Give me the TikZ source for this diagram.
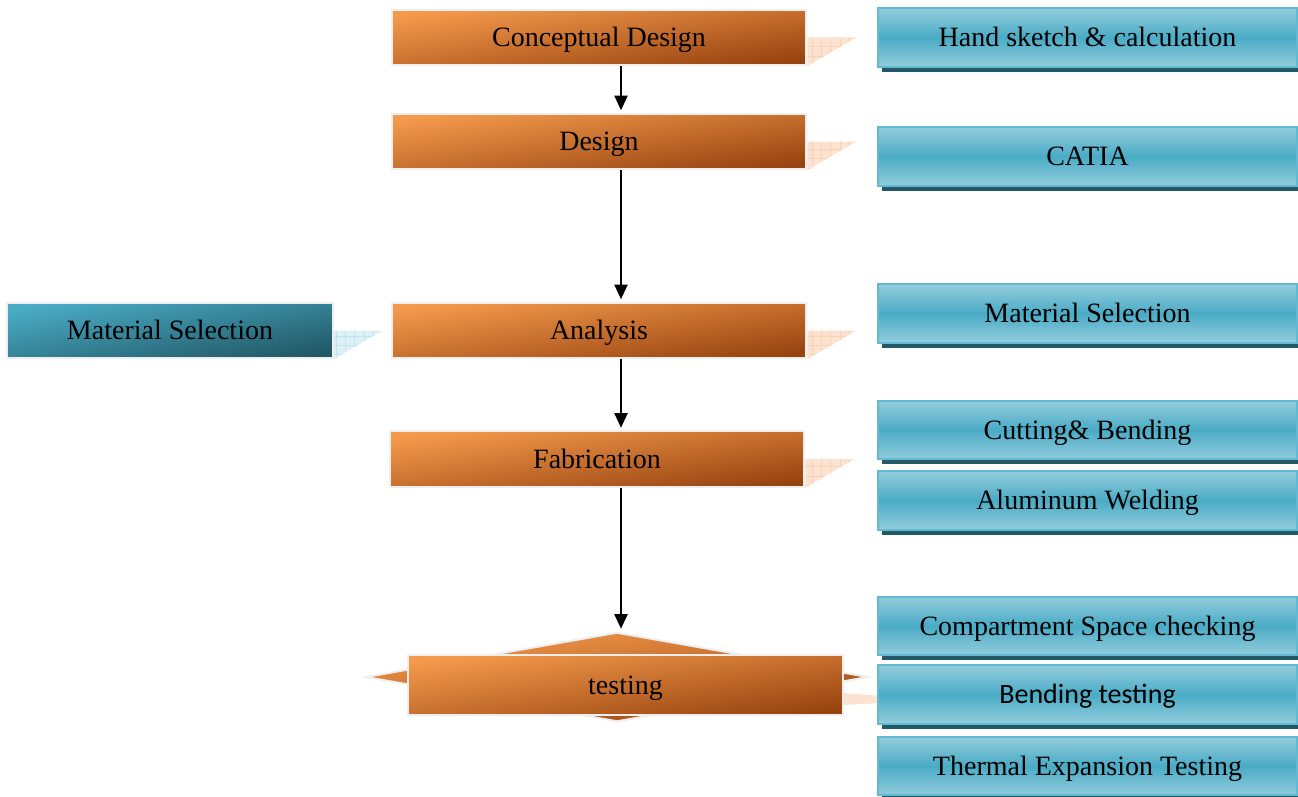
\documentclass[tikz,border=0pt]{standalone}
\usepackage{fontspec}
\setmainfont{Liberation Serif}
\newfontfamily\calfont{Carlito}
\usetikzlibrary{shapes.geometric, shadows, arrows.meta, backgrounds, calc}

\definecolor{olight}{HTML}{F59A4C}
\definecolor{odark}{HTML}{984410}
\definecolor{blight}{HTML}{93CDDD}
\definecolor{bmid}{HTML}{4AABC5}
\definecolor{bdark}{HTML}{215967}
\definecolor{bline}{HTML}{62BAD2}
\definecolor{edge}{HTML}{EEEEEE}
\definecolor{opeach}{HTML}{FCE3D1}
\definecolor{ogrid}{HTML}{F9D2B4}
\definecolor{bpale}{HTML}{DDF0F6}
\definecolor{bgrid}{HTML}{C3E4EE}

\tikzset{
  txt/.style={font=\fontsize{21}{25}\selectfont, text height=14pt, text depth=0pt},
  stage/.style={rectangle, draw=edge, line width=1.5pt, top color=olight, bottom color=odark,
    shading angle=8, minimum width=311pt, minimum height=41.5pt, inner sep=0pt, txt},
  task/.style={rectangle, draw=bline, line width=1.5pt, top color=blight, bottom color=blight,
    middle color=bmid, minimum width=314pt, minimum height=44pt, inner sep=0pt, txt,
    drop shadow={fill=bdark, opacity=1, shadow xshift=3pt, shadow yshift=-3.75pt}},
  sidebox/.style={rectangle, draw=edge, line width=1.5pt, top color=bmid, bottom color=bdark,
    shading angle=10, minimum width=244pt, minimum height=41.5pt, inner sep=0pt, txt},
  flow/.style={line width=1.1pt, -{Triangle[width=10pt,length=11pt]}, shorten >=2pt},
}

\begin{document}
\begin{tikzpicture}[x=0.75pt, y=-0.75pt]
\useasboundingbox (0,0) rectangle (1298,796);

\coordinate (ax) at (621,0);

% main chain
\node[stage] at (599,37.5) (cd) {Conceptual Design};
\node[stage] at (599,141.5) (des) {Design};
\node[stage] at (599,330.5) (ana) {Analysis};
\node[stage] at (597,459) (fab) {Fabrication};
\node[diamond, draw=edge, line width=1.5pt, top color=olight, bottom color=odark, shading angle=8,
  minimum width=377pt, minimum height=67pt, inner sep=0pt] at (617,677) (tdia) {};
\node[stage, minimum width=326pt, minimum height=45pt] at (625.5,685) (tst) {testing};

% tools
\node[task] at (1087.5,37.5) (hand) {Hand sketch \& calculation};
\node[task] at (1087.5,156.5) (cat) {CATIA};
\node[task] at (1087.5,313.5) (mat) {Material Selection};
\node[task] at (1087.5,430) (cut) {Cutting\& Bending};
\node[task] at (1087.5,500.5) (alu) {Aluminum Welding};
\node[task] at (1087.5,626) (cmp) {Compartment Space checking};
\node[task, font=\calfont\fontsize{21}{25}\selectfont] at (1087.5,694.5) (bnd) {Bending testing};
\node[task] at (1087.5,766) (thm) {Thermal Expansion Testing};

\node[sidebox] at (170,330.5) (lmat) {Material Selection};

\begin{scope}[on background layer]
\foreach \n in {cd,des,ana,fab}{
  \fill[opeach] (\n.east) -- ++(49,0) -- (\n.south east) -- cycle;
  \begin{scope}
    \clip (\n.east) -- ++(49,0) -- (\n.south east) -- cycle;
    \draw[ogrid, line width=0.6pt, step=7pt] ($(\n.east)+(0,-5)$) grid ($(\n.south east)+(55,5)$);
  \end{scope}
}
\fill[opeach] ($(tst.east)+(0,8)$) -- ++(37,3) -- ++(0,7) -- ++(-37,2) -- cycle;
\fill[bpale] (lmat.east) -- ++(49,0) -- (lmat.south east) -- cycle;
\begin{scope}
  \clip (lmat.east) -- ++(49,0) -- (lmat.south east) -- cycle;
  \draw[bgrid, line width=0.6pt, step=7pt] ($(lmat.east)+(0,-5)$) grid ($(lmat.south east)+(55,5)$);
\end{scope}
\end{scope}

\draw[flow] (cd.south -| ax) -- (des.north -| ax);
\draw[flow] (des.south -| ax) -- (ana.north -| ax);
\draw[flow] (ana.south -| ax) -- (fab.north -| ax);
\draw[flow] (fab.south -| ax) -- (tdia.north -| ax);

\end{tikzpicture}
\end{document}
